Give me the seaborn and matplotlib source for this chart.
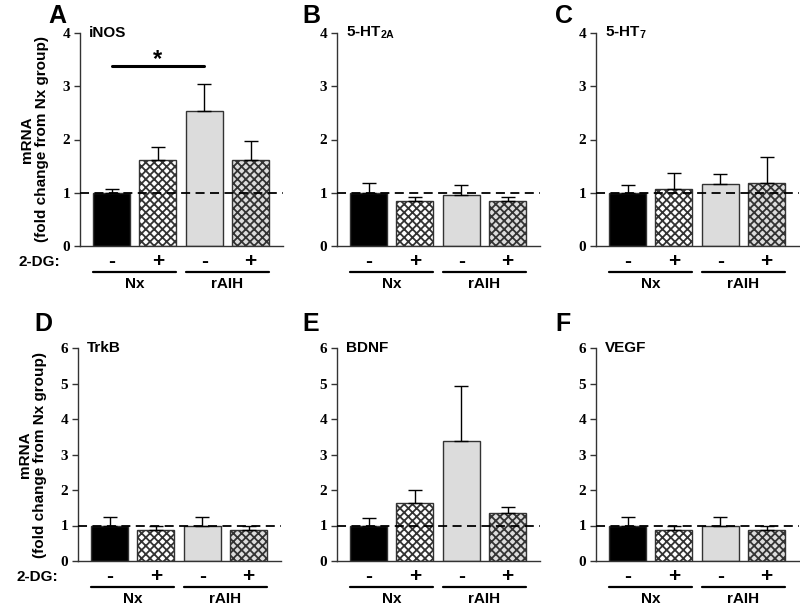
import numpy as np
import pandas as pd
import matplotlib
matplotlib.use('Agg')
import matplotlib.pyplot as plt
import seaborn as sns

# datos (media y error superior)
conditions = ['Nx-', 'Nx+', 'rAIH-', 'rAIH+']
signs = ['-', '+', '-', '+']
groups = ['Nx', 'rAIH']

inos_mean = [1.0, 1.62, 2.54, 1.61]
inos_err = [0.07, 0.23, 0.51, 0.36]
ht2a_mean = [1.0, 0.85, 0.96, 0.84]
ht2a_err = [0.19, 0.07, 0.19, 0.08]
ht7_mean = [1.0, 1.07, 1.17, 1.19]
ht7_err = [0.14, 0.31, 0.18, 0.49]
trkb_mean = [1.0, 0.88, 1.0, 0.88]
trkb_err = [0.24, 0.10, 0.23, 0.10]
bdnf_mean = [1.0, 1.64, 3.37, 1.36]
bdnf_err = [0.20, 0.35, 1.56, 0.15]
vegf_mean = [1.0, 0.88, 1.0, 0.88]
vegf_err = [0.24, 0.10, 0.23, 0.10]

panels = [
    ('A', 'iNOS', inos_mean, inos_err, 4),
    ('B', r'5-HT$_{\mathbf{2A}}$', ht2a_mean, ht2a_err, 4),
    ('C', r'5-HT$_{\mathbf{7}}$', ht7_mean, ht7_err, 4),
    ('D', 'TrkB', trkb_mean, trkb_err, 6),
    ('E', 'BDNF', bdnf_mean, bdnf_err, 6),
    ('F', 'VEGF', vegf_mean, vegf_err, 6),
]

sns.set_style('ticks')
plt.rcParams['font.family'] = ['Liberation Sans', 'DejaVu Sans']
plt.rcParams['mathtext.fontset'] = 'custom'
plt.rcParams['mathtext.rm'] = 'Liberation Sans:bold'
plt.rcParams['mathtext.bf'] = 'Liberation Sans:bold'
plt.rcParams['hatch.linewidth'] = 1.3
plt.rcParams['hatch.color'] = 'black'
for k in ['text.color', 'axes.labelcolor', 'xtick.color', 'ytick.color']:
    plt.rcParams[k] = 'black'

palette = {'Nx-': 'black', 'Nx+': 'white', 'rAIH-': '#dcdcdc', 'rAIH+': '#dcdcdc'}

fig = plt.figure(figsize=(8, 6.06), dpi=100)

W, H = 800, 606
lefts = [80, 337, 596, 78, 337, 596]
bottoms = [246, 246, 246, 561, 561, 561]
letter_pos = [(48, 4), (302, 4), (555, 4), (34, 312), (302, 312), (555, 312)]

for i, (letra, gen, medias, errs, ymax) in enumerate(panels):
    ax = fig.add_axes([lefts[i] / W, 1 - bottoms[i] / H, 203 / W, 213 / H])
    df = pd.DataFrame({'cond': conditions, 'valor': medias})

    sns.barplot(data=df, x='cond', y='valor', hue='cond', palette=palette,
                order=conditions, hue_order=conditions, dodge=False,
                legend=False, errorbar=None, width=0.8,
                edgecolor='#333333', linewidth=1.0, ax=ax)

    for j, p in enumerate(ax.patches):
        if j in (1, 3):
            p.set_hatch('xxxx')

    # error solo hacia arriba
    ax.errorbar(np.arange(4), medias, yerr=[np.zeros(4), errs], fmt='none',
                ecolor='black', elinewidth=1.0, capsize=5, capthick=1.0, zorder=1)

    ax.axhline(1, color='black', linestyle=(0, (5, 3)), linewidth=1.3, zorder=5)

    ax.set_xlim(-0.68, 3.7)
    ax.set_ylim(0, ymax)
    ax.set_yticks(range(ymax + 1))
    ax.set_xticks([])
    ax.set_xlabel('')
    ax.set_ylabel('')
    sns.despine(ax=ax)
    for s in ['left', 'bottom']:
        ax.spines[s].set_color('#333333')
        ax.spines[s].set_linewidth(1.0)
    ax.tick_params(axis='y', length=4, width=1, color='#333333', pad=3)
    for lab in ax.get_yticklabels():
        lab.set_fontfamily('Liberation Serif')
        lab.set_fontweight('bold')
        lab.set_fontsize(11)

    ax.text(0.045, 1.0, gen, transform=ax.transAxes, ha='left', va='center',
            fontsize=11, fontweight='bold')

    tr = ax.get_xaxis_transform()
    for k, s in enumerate(signs):
        ax.text(k, -0.075, s, transform=tr, ha='center', va='center',
                fontsize=15, fontweight='bold')
    for g, (x0, x1) in zip(groups, [(-0.4, 1.4), (1.6, 3.4)]):
        ax.plot([x0, x1], [-0.124, -0.124], transform=tr, color='black',
                lw=1.6, clip_on=False)
        ax.text((x0 + x1) / 2, -0.178, g, transform=tr, ha='center',
                va='center', fontsize=11, fontweight='bold')

    if letra in ('A', 'D'):
        ax.text(-0.2, -0.075, '2-DG:', transform=ax.transAxes, ha='center',
                va='center', fontsize=11, fontweight='bold')
        ax.set_ylabel('mRNA\n(fold change from Nx group)', fontsize=11,
                      fontweight='bold', linespacing=1.05)
        ax.yaxis.set_label_coords(-0.155, 0.5)

    if letra == 'A':
        ax.plot([0, 2], [3.375, 3.375], color='black', lw=2.2)
        ax.text(1, 3.5, '*', ha='center', va='center', fontsize=17,
                fontweight='bold')

    lx, ly = letter_pos[i]
    fig.text(lx / W, 1 - ly / H, letra, ha='left', va='top', fontsize=18,
             fontweight='bold')

fig.savefig('out.png', dpi=100)
